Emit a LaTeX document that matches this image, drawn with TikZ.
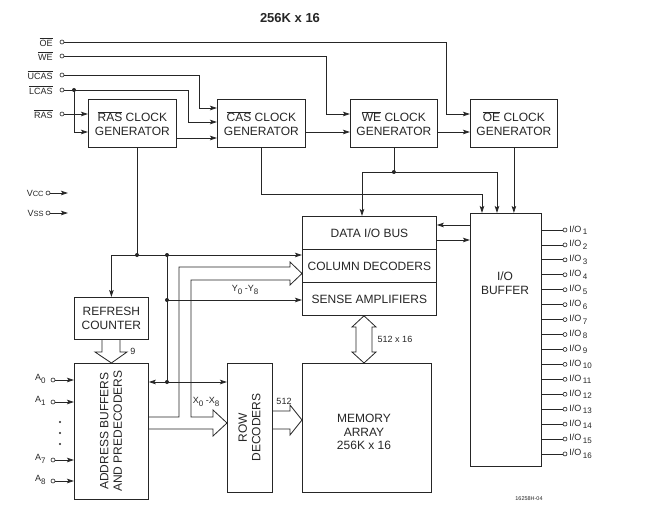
\documentclass[tikz,border=0pt]{standalone}
\usepackage{fontspec}
\setmainfont{Liberation Sans}
\usetikzlibrary{arrows.meta}
\newcommand\ovl[1]{$\overline{\hbox{#1}}$}
\newcommand\sub[1]{\raisebox{-2.5pt}{\fontsize{8}{8}\selectfont #1}}
\begin{document}
\begin{tikzpicture}[x=1pt,y=-1pt,
  line width=0.8pt, color=black!85,
  blk/.style={draw, anchor=north west, inner sep=0pt, align=center, font=\fontsize{12}{13.5}\selectfont},
  arr/.style={-{Stealth[length=7pt,width=4.5pt,inset=1.5pt]}},
  darr/.style={{Stealth[length=7pt,width=4.5pt,inset=1.5pt]}-{Stealth[length=7pt,width=4.5pt,inset=1.5pt]}},
  pinc/.style={circle, draw, fill=white, inner sep=0pt, minimum size=4pt, line width=0.6pt},
  jdot/.style={circle, fill=black!85, inner sep=0pt, minimum size=4pt},
  lbl/.style={font=\fontsize{9}{10}\selectfont, inner sep=1pt},
  txt/.style={font=\fontsize{12}{13.5}\selectfont, align=center, inner sep=0pt},
]
\useasboundingbox[fill=white] (0,0) rectangle (661,532);

% title
\node[font=\bfseries\fontsize{13}{14}\selectfont] (title) at (290,18) {256K x 16};

% blocks
\node[blk, minimum width=88pt, minimum height=48pt] (rasclk) at (88,99) {\ovl{RAS} CLOCK\\GENERATOR};
\node[blk, minimum width=88pt, minimum height=48pt] (casclk) at (217,99) {\ovl{CAS} CLOCK\\GENERATOR};
\node[blk, minimum width=87pt, minimum height=48pt] (weclk) at (350,99) {\ovl{WE} CLOCK\\GENERATOR};
\node[blk, minimum width=87pt, minimum height=48pt] (oeclk) at (470,99) {\ovl{OE} CLOCK\\GENERATOR};
\node[blk, minimum width=134pt, minimum height=33pt] (databus) at (302,216) {DATA I/O BUS};
\node[blk, minimum width=134pt, minimum height=33pt] (coldec) at (302,249) {COLUMN DECODERS};
\node[blk, minimum width=134pt, minimum height=33pt] (sense) at (302,282) {SENSE AMPLIFIERS};
\node[blk, minimum width=71pt, minimum height=253pt] (iobuf) at (470,213) {};
\node[txt] (iobuftxt) at (505,283) {I/O\\BUFFER};
\node[blk, minimum width=74pt, minimum height=42pt] (refresh) at (74,297) {REFRESH\\COUNTER};
\node[blk, minimum width=74pt, minimum height=136pt] (addr) at (74,363) {};
\node[txt, rotate=90] (addrtxt) at (111,431) {ADDRESS BUFFERS\\AND PREDECODERS};
\node[blk, minimum width=45pt, minimum height=129pt] (rowdec) at (227,363) {};
\node[txt, rotate=90] (rowtxt) at (249.5,427.5) {ROW\\DECODERS};
\node[blk, minimum width=129pt, minimum height=129pt] (mem) at (302,363) {};
\node[txt] (memtxt) at (364,432) {MEMORY\\ARRAY\\256K x 16};

% control input pins
\foreach \n/\t/\yy in {oe/OE/42, we/WE/56, ucas/UCAS/75, lcas/LCAS/90, ras/RAS/114}{
  \node[pinc] (\n pin) at (62,\yy) {};
  \node[lbl, anchor=east] (\n lbl) at (54,\yy) {\ovl{\t}};
}
\draw[arr] (oepin) -- (446,42) |- (oeclk.west |- 0,114);
\draw[arr] (wepin) -- (326,56) |- (weclk.west |- 0,114);
\draw[arr] (ucaspin) -- (199,75) |- (casclk.west |- 0,108);
\draw[arr] (lcaspin) -- (188,90) |- (casclk.west |- 0,122);
\draw[arr] (74,90) |- (rasclk.west |- 0,132);
\node[jdot] (lcasdot) at (74,90) {};
\draw[arr] (raspin) -- (rasclk.west |- raspin);
\draw[arr] (rasclk.east |- 0,138) -- (casclk.west |- 0,138);
\draw[arr] (casclk.east |- 0,132) -- (weclk.west |- 0,132);
\draw[arr] (weclk.east |- 0,132) -- (oeclk.west |- 0,132);

% VCC / VSS
\node[pinc] (vccpin) at (48,193) {};
\node[pinc] (vsspin) at (48,213) {};
\coordinate (vccend) at (68,193);
\coordinate (vssend) at (68,213);
\draw[arr] (vccpin) -- (vccend);
\draw[arr] (vsspin) -- (vssend);
\node[lbl, anchor=east] (vcclbl) at (45,193) {V{\fontsize{7.5}{8}\selectfont CC}};
\node[lbl, anchor=east] (vsslbl) at (45,213) {V{\fontsize{7.5}{8}\selectfont SS}};

% clocks to data bus / I/O buffer
\draw[arr] (oeclk.south) -- (oeclk.south |- iobuf.north);
\draw[arr] (weclk.south) -- (weclk.south |- 0,172) -| (databus.north -| 362,0);
\draw[arr] (weclk.south |- 0,172) -| (iobuf.north -| 497,0);
\node[jdot] (wedot) at (weclk.south |- 0,172) {};
\draw[arr] (casclk.south) |- (482,194) -- (iobuf.north -| 482,0);
\draw[arr] (iobuf.west |- 0,225) -- (databus.east |- 0,225);
\draw[arr] (databus.east |- 0,240) -- (iobuf.west |- 0,240);

% I/O pins
\foreach \i in {1,...,16}{
  \pgfmathsetmacro\yy{230+14.93*(\i-1)}
  \node[pinc] (io\i) at (565,\yy) {};
  \draw (iobuf.east |- io\i) -- (io\i);
  \node[lbl, anchor=west] (iolbl\i) at (568,\yy) {I/O\,\sub{\i}};
}

% RAS clock to refresh, column decoders
\draw (rasclk.south -| 137,0) -- (137,255);
\draw[darr] (coldec.west |- 0,255) -| (refresh.north);
\draw (167,255) -- (167,382);
\draw[arr] (167,300) -- (sense.west |- 0,300);
\draw[darr] (addr.east |- 0,382) -- (rowdec.west |- 0,382);
\node[jdot] (d1) at (137,255) {};
\node[jdot] (d2) at (167,255) {};
\node[jdot] (d3) at (167,300) {};
\node[jdot] (d4) at (167,382) {};
\node[lbl] (ylbl) at (245,290) {Y\sub{0} -Y\sub{8}};
\node[lbl] (xlbl) at (206,402) {X\sub{0} -X\sub{8}};

% address bus (column + row)
\draw[line join=miter] (addr.east |- 0,417) -- (179,417) -- (179,267) -- (290,267) -- (290,262)
  -- (coldec.west |- 0,273.5) -- (290,285) -- (290,280) -- (191,280) -- (191,417) -- (213,417)
  -- (213,410) -- (rowdec.west |- 0,423) -- (213,436) -- (213,429) -- (addr.east |- 0,429);

% refresh -> address buffers (9)
\draw[line join=miter] (refresh.south -| 102,0) -- (102,352) -- (95,352) -- (addr.north)
  -- (127,352) -- (120,352) -- (refresh.south -| 120,0);
\node[lbl] (ninelbl) at (133,351) {9};

% row decoders -> memory (512)
\draw[line join=miter] (rowdec.east |- 0,411) -- (290,411) -- (290,405) -- (mem.west |- 0,420)
  -- (290,435) -- (290,429) -- (rowdec.east |- 0,429);
\node[lbl] (lbl512) at (284,401) {512};

% sense amps <-> memory (512 x 16)
\draw[line join=miter] (sense.south -| 364,0) -- (376,327) -- (372,327) -- (372,352) -- (376,352)
  -- (mem.north -| 364,0) -- (352,352) -- (356,352) -- (356,327) -- (352,327) -- cycle;
\node[lbl] (lbl512x16) at (395,339) {512 x 16};

% address pins
\foreach \n/\s/\yy in {a0/0/380, a1/1/402, a7/7/460, a8/8/481}{
  \node[pinc] (\n pin) at (53,\yy) {};
  \draw[arr] (\n pin) -- (addr.west |- \n pin);
  \node[lbl, anchor=east] (\n lbl) at (47,\yy-1) {A\sub{\s}};
}
\foreach \yy in {422,433,444}{
  \fill (60,\yy) circle (1.2pt);
}

% figure id
\node[font=\fontsize{5.5}{6}\selectfont] (figid) at (529,499) {16258H-04};
\end{tikzpicture}
\end{document}
